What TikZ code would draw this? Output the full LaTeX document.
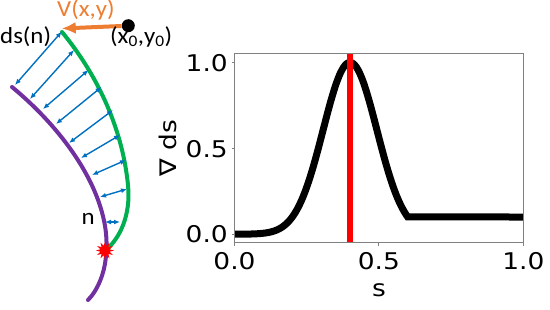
\documentclass[tikz,border=0pt]{standalone}
\usepackage{fontspec}
\usetikzlibrary{positioning,calc,arrows.meta,shapes.geometric}
\newfontfamily\labelfont{Carlito}
\newfontfamily\plotfont{DejaVu Sans}
\definecolor{OffBlue}{RGB}{0,112,192}
\definecolor{OffGreen}{RGB}{0,176,80}
\definecolor{OffPurple}{RGB}{112,48,160}
\definecolor{OffOrange}{RGB}{237,125,49}

\begin{document}
\begin{tikzpicture}[
    x=1pt, y=-1pt,
    lbl/.style={
        inner sep=0pt,
        xscale=1.08,
        font=\labelfont\fontsize{23}{27}\selectfont
    },
    ticklbl/.style={
        inner sep=0pt,
        xscale=1.15,
        font=\plotfont\fontsize{23}{27}\selectfont
    },
    edgeline/.style={
        line width=4pt,
        line cap=round
    },
    normal/.style={
        {Latex[length=6pt,width=5pt]}-{Latex[length=6pt,width=5pt]},
        line width=1.4pt,
        draw=OffBlue
    },
    vel/.style={
        -{Latex[length=14pt,width=12pt]},
        line width=4pt,
        draw=OffOrange
    },
    frame/.style={
        line width=1pt,
        draw=black!50
    }
]
\useasboundingbox (0,0) rectangle (550,309);

\draw[edgeline, OffPurple] (12,87) .. controls (70,135) and (112,200) .. (106,255)
    .. controls (105,272) and (98,290) .. (88,300);
\draw[edgeline, OffGreen] (62,32) .. controls (95,72) and (122,125) .. (128,185)
    .. controls (131,215) and (120,238) .. (106,250);

\foreach \gx/\gy/\px/\py [count=\i] in {61.7/31.7/15/85, 74/50/30/99, 88.5/70/43/109,
    101.5/87/56/124, 113/110/69/143, 120/135/81/158, 126/160/92/175,
    127/189/100/197, 120/222/105/222}{
    \coordinate (g\i) at (\gx,\gy);
    \coordinate (p\i) at (\px,\py);
    \draw[normal] (g\i) -- (p\i);
}

\node[star, star points=12, star point ratio=1.9, fill=red, inner sep=0pt,
    minimum size=18pt] (hit) at (105,250.5) {};

\node[circle, fill=black, inner sep=0pt, minimum size=13pt] (src) at (128.3,25.7) {};
\coordinate (tip) at (61.7,28.5);
\draw[vel] (src) -- (tip);

\node[lbl, anchor=base west, text=OffOrange] (vlbl) at (57,16) {V(x,y)};
\node[lbl, anchor=base west] (dslbl) at (0,43) {ds(n)};
\node[lbl, anchor=base west] (srclbl) at (110,43) {(x\textsubscript{0},y\textsubscript{0})};
\node[lbl, anchor=base west] (nlbl) at (81.5,224) {n};

\begin{scope}[shift={(234.5,234.2)}, x=288.8pt, y=171.7pt]
\draw[line width=7pt] plot[domain=0:0.6, samples=120]
    (\x,{exp(-1*(\x-0.4)*(\x-0.4)/0.01737)}) -- (1,0.1);
\draw[line width=6pt, red] (0.4,-0.05) -- (0.4,1.05);
\draw[frame] (0,-0.05) rectangle (1,1.05);
\foreach \v in {0,0.5,1}{
    \draw[frame] (0,\v) -- ++(-3pt,0);
    \draw[frame] (\v,-0.05) -- ++(0,-3pt);
}
\end{scope}

\foreach \t/\ypos [count=\i] in {1.0/63, 0.5/148.8, 0.0/234.2}
    \node[ticklbl, anchor=east] (ytick\i) at (228,\ypos) {\t};
\foreach \t/\xpos [count=\i] in {0.0/234.5, 0.5/378.9, 1.0/523.3}
    \node[ticklbl, anchor=north] (xtick\i) at (\xpos,252.5) {\t};
\node[ticklbl, anchor=base] (xlbl) at (378.9,296) {s};
\node[ticklbl, xscale=0.87, yscale=1.15, rotate=90] (ylbl) at (167.5,148) {∇ ds};

\end{tikzpicture}
\end{document}
